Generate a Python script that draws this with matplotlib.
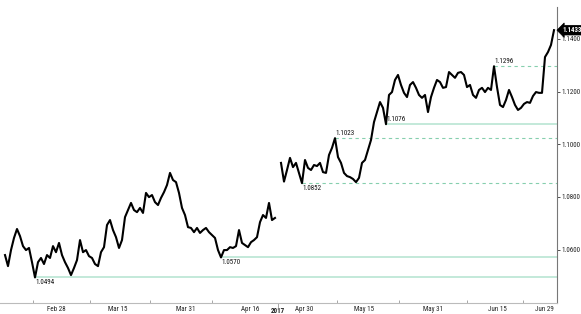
import numpy as np
import matplotlib
matplotlib.use("Agg")
import matplotlib.pyplot as plt
import matplotlib.transforms as mtransforms
from matplotlib import font_manager

# EUR/USD price path (Feb 2017 -> Jun 29 2017), NaN marks the weekend gap (French election)
seg_a = [1.0579, 1.0537, 1.0598, 1.0644, 1.0678, 1.0651, 1.0613, 1.0598, 1.0606, 1.0552,
         1.0494, 1.0552, 1.0568, 1.0545, 1.0579, 1.0568, 1.0613, 1.0590, 1.0625, 1.0579,
         1.0552, 1.0530, 1.0503, 1.0530, 1.0560, 1.0636, 1.0590, 1.0598, 1.0575, 1.0568,
         1.0545, 1.0537, 1.0590, 1.0609, 1.0693, 1.0712, 1.0674, 1.0647, 1.0606, 1.0636,
         1.0723, 1.0750, 1.0777, 1.0750, 1.0742, 1.0758, 1.0739, 1.0815, 1.0799, 1.0807,
         1.0780, 1.0769, 1.0796, 1.0818, 1.0845, 1.0891, 1.0864, 1.0856, 1.0815, 1.0758,
         1.0731, 1.0685, 1.0682, 1.0666, 1.0682, 1.0663, 1.0674, 1.0682, 1.0666, 1.0655,
         1.0644, 1.0598, 1.0570, 1.0598, 1.0598, 1.0609, 1.0606, 1.0613, 1.0674, 1.0625,
         1.0617, 1.0609, 1.0628, 1.0636, 1.0647, 1.0704, 1.0731, 1.0720, 1.0777, 1.0712,
         1.0720]
seg_b = [1.0929, 1.0858, 1.0902, 1.0948, 1.0913, 1.0929, 1.0891, 1.0852, 1.0940, 1.0910,
         1.0902, 1.0921, 1.0917, 1.0929, 1.0894, 1.0891, 1.0959, 1.0986, 1.1023, 1.0951,
         1.0929, 1.0891, 1.0879, 1.0875, 1.0868, 1.0856, 1.0872, 1.0929, 1.0940, 1.0978,
         1.1016, 1.1084, 1.1122, 1.1160, 1.1138, 1.1076, 1.1187, 1.1198, 1.1244, 1.1263,
         1.1225, 1.1195, 1.1179, 1.1225, 1.1236, 1.1214, 1.1187, 1.1176, 1.1187, 1.1122,
         1.1179, 1.1214, 1.1244, 1.1236, 1.1214, 1.1217, 1.1274, 1.1263, 1.1252, 1.1271,
         1.1274, 1.1263, 1.1217, 1.1225, 1.1187, 1.1176, 1.1206, 1.1214, 1.1198, 1.1214,
         1.1206, 1.1296, 1.1217, 1.1149, 1.1141, 1.1168, 1.1206, 1.1179, 1.1149, 1.1130,
         1.1138, 1.1153, 1.1160, 1.1157, 1.1183, 1.1198, 1.1195, 1.1195, 1.1331, 1.1350,
         1.1377, 1.1433]
prices = np.array(seg_a + [np.nan] + seg_b)

# x-axis labels (positions in sample index units)
tick_labels = ["Feb 28", "Mar 15", "Mar 31", "Apr 16", "Apr 30", "May 15", "May 31", "Jun 15", "Jun 29"]
tick_pos = [17.0, 37.7, 60.3, 81.7, 99.7, 119.7, 142.7, 164.0, 179.7]
sep_pos = [9.3, 28.3, 48.3, 69.0, 110.7, 131.3, 154.0, 172.7]
year_label = "2017"
year_pos = 91.0

# right-axis ticks
y_ticks = [1.06, 1.08, 1.10, 1.12, 1.14]

# reference levels
levels = [1.0494, 1.0570, 1.0852, 1.1023, 1.1076, 1.1296]
level_dashed = [False, False, True, True, False, True]
level_above = [False, False, False, True, True, True]

available = {f.name for f in font_manager.fontManager.ttflist}
FS = 5
chosen = None
for cand in ["Liberation Sans Narrow", "DejaVu Sans Condensed", "Roboto Condensed", "Open Sans Condensed"]:
    if cand in available:
        chosen = cand
        break
if chosen is None:
    chosen = "Liberation Sans" if "Liberation Sans" in available else "DejaVu Sans"
    FS = 4.2
plt.rcParams["font.family"] = [chosen, "DejaVu Sans"]

fig = plt.figure(figsize=(5.81, 3.14), dpi=100)
ax = fig.add_axes([0.0, 11 / 314, 557 / 581, 296 / 314])

x = np.arange(len(prices))
ax.set_xlim(-5 / 3, 184)
ax.set_ylim(1.0397, 1.1521)

solid_c = "#b3e3d0"
dash_c = "#86cfae"
for lv, dashed, above in zip(levels, level_dashed, level_above):
    idx = int(np.where(np.isclose(prices, lv))[0][0])
    if dashed:
        ax.plot([idx, 184], [lv, lv], color=dash_c, lw=0.8, dashes=(3, 3), zorder=1)
    else:
        ax.plot([idx, 184], [lv, lv], color=solid_c, lw=1.1, zorder=1)
    ax.annotate(f"{lv:.4f}", (idx, lv), xytext=(0.3, 1.0 if above else -1.3),
                textcoords="offset points", ha="left",
                va="bottom" if above else "top", fontsize=FS, color="#111111")

ax.plot(x, prices, color="black", lw=1.5, zorder=3)

# axes styling
for s in ["left", "top"]:
    ax.spines[s].set_visible(False)
ax.spines["right"].set_color("#777777")
ax.spines["right"].set_linewidth(0.8)
ax.spines["bottom"].set_color("#bbbbbb")
ax.spines["bottom"].set_linewidth(0.8)

ax.yaxis.tick_right()
ax.set_yticks(y_ticks)
ax.set_yticklabels([f"{v:.4f}" for v in y_ticks])
ax.tick_params(axis="y", which="major", direction="out", length=2, width=0.6,
               color="#333333", labelsize=FS, pad=1, labelcolor="#222222")

ax.set_xticks(tick_pos)
ax.set_xticklabels(tick_labels)
ax.set_xticks(sep_pos, minor=True)
ax.tick_params(axis="x", which="major", length=0, labelsize=FS, pad=2, labelcolor="#222222")
ax.tick_params(axis="x", which="minor", direction="in", length=2, width=0.6, color="#999999")

bt = mtransforms.blended_transform_factory(ax.transData, ax.transAxes)
ax.text(year_pos, -0.026, year_label, transform=bt, ha="center", va="center",
        fontsize=FS, color="#222222", fontweight="bold")
ax.plot([year_pos, year_pos], [0, -0.012], transform=bt, color="#999999", lw=0.6, clip_on=False)

# last value tag
last = prices[-1]
trans = mtransforms.blended_transform_factory(ax.transAxes, ax.transData)
ax.text(1.009, last, f"{last:.4f}", transform=trans, ha="left", va="center",
        fontsize=FS, color="white", fontweight="bold",
        bbox=dict(boxstyle="larrow,pad=0.12", fc="black", ec="black", lw=0.5), clip_on=False)

fig.savefig("out.png", dpi=100)
